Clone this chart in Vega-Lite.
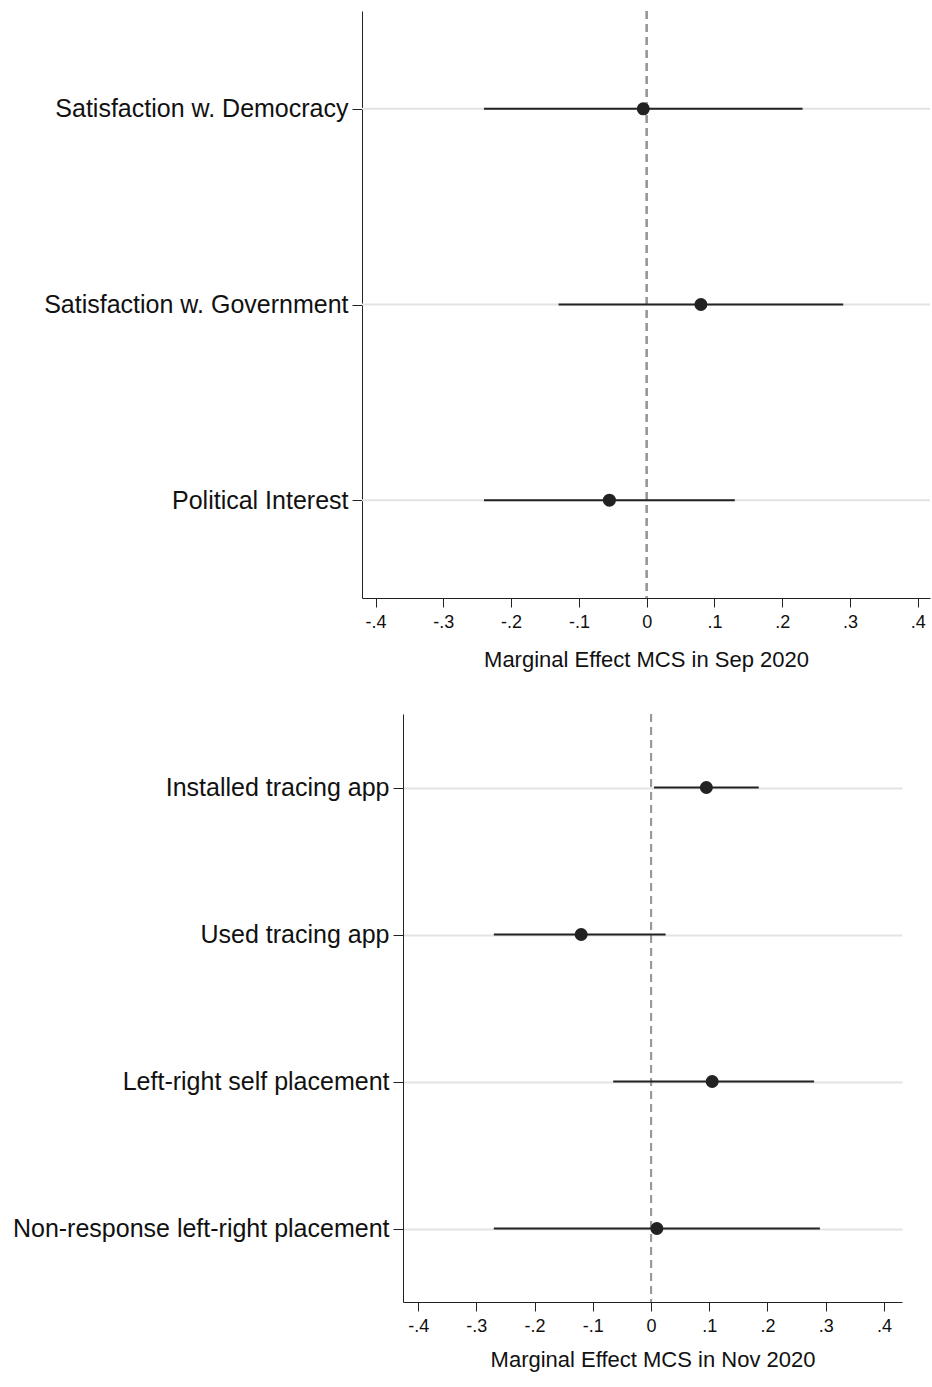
{
  "$schema": "https://vega.github.io/schema/vega-lite/v6.json",
  "background": "white",
  "padding": {"left": 12, "top": 10, "right": 0, "bottom": 5},
  "config": {
    "font": "Liberation Sans",
    "view": {"stroke": null},
    "axis": {"labelFont": "Liberation Sans", "titleFont": "Liberation Sans", "labelFontSize": 18, "titleFontSize": 22, "titleFontWeight": "normal", "labelColor": "#111", "titleColor": "#111", "domainColor": "#222", "tickColor": "#222", "tickSize": 9, "labelLimit": 0}
  },
  "spacing": 43,
  "vconcat": [
    {
      "width": 527, "height": 587,
      "data": {"values": [
        {"v": "Satisfaction w. Democracy", "b": -0.005, "lo": -0.24, "hi": 0.23},
        {"v": "Satisfaction w. Government", "b": 0.08, "lo": -0.13, "hi": 0.29},
        {"v": "Political Interest", "b": -0.055, "lo": -0.24, "hi": 0.13}
      ]},
      "encoding": {
        "y": {"field": "v", "type": "nominal", "sort": null, "scale": {"type": "point", "padding": 0.5},
          "axis": {"title": null, "labelFontSize": 25, "labelPadding": 4, "tickSize": 10, "offset": 41, "grid": false}}
      },
      "layer": [
        {"mark": {"type": "rule", "color": "#e3e3e3", "strokeWidth": 2},
          "encoding": {"x": {"datum": -0.42}, "x2": {"datum": 0.418}}},
        {"mark": {"type": "rule", "color": "#999", "strokeDash": [8, 5], "strokeWidth": 2}, "encoding": {"y": null, "x": {"datum": 0}}},
        {"mark": {"type": "rule", "color": "#222", "strokeWidth": 2},
          "encoding": {"x": {"field": "lo", "type": "quantitative"}, "x2": {"field": "hi"}}},
        {"mark": {"type": "point", "filled": true, "color": "#222", "opacity": 1, "size": 170},
          "encoding": {"x": {"field": "b", "type": "quantitative", "scale": {"domain": [-0.42, 0.418], "range": [-41, 527], "nice": false, "zero": false},
            "axis": {"title": "Marginal Effect MCS in Sep 2020", "values": [-0.4, -0.3, -0.2, -0.1, 0, 0.1, 0.2, 0.3, 0.4], "labelExpr": "datum.value == 0 ? '0' : replace(replace(format(datum.value, '.1f'), '0.', '.'), '−', '-')", "labelPadding": 6, "titlePadding": 18, "grid": false}}}}
      ]
    },
    {
      "width": 499, "height": 588,
      "data": {"values": [
        {"v": "Installed tracing app", "b": 0.095, "lo": 0.005, "hi": 0.185},
        {"v": "Used tracing app", "b": -0.12, "lo": -0.27, "hi": 0.025},
        {"v": "Left-right self placement", "b": 0.105, "lo": -0.065, "hi": 0.28},
        {"v": "Non-response left-right placement", "b": 0.01, "lo": -0.27, "hi": 0.29}
      ]},
      "encoding": {
        "y": {"field": "v", "type": "nominal", "sort": null, "scale": {"type": "point", "padding": 0.5},
          "axis": {"title": null, "labelFontSize": 25, "labelPadding": 4, "tickSize": 10, "grid": true, "gridColor": "#e3e3e3", "gridWidth": 2}}
      },
      "layer": [
        {"mark": {"type": "rule", "color": "#999", "strokeDash": [8, 5], "strokeWidth": 2}, "encoding": {"y": null, "x": {"datum": 0}}},
        {"mark": {"type": "rule", "color": "#222", "strokeWidth": 2},
          "encoding": {"x": {"field": "lo", "type": "quantitative"}, "x2": {"field": "hi"}}},
        {"mark": {"type": "point", "filled": true, "color": "#222", "opacity": 1, "size": 170},
          "encoding": {"x": {"field": "b", "type": "quantitative", "scale": {"domain": [-0.426, 0.431], "nice": false, "zero": false},
            "axis": {"title": "Marginal Effect MCS in Nov 2020", "values": [-0.4, -0.3, -0.2, -0.1, 0, 0.1, 0.2, 0.3, 0.4], "labelExpr": "datum.value == 0 ? '0' : replace(replace(format(datum.value, '.1f'), '0.', '.'), '−', '-')", "labelPadding": 6, "titlePadding": 14, "grid": false}}}}
      ]
    }
  ]
}
